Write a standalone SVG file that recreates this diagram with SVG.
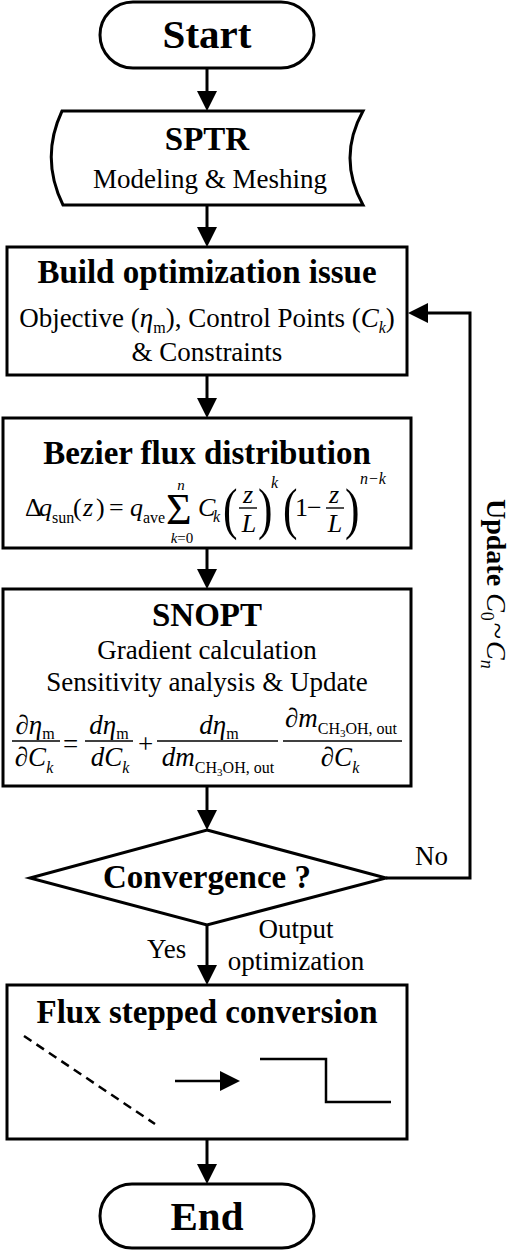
<svg xmlns="http://www.w3.org/2000/svg" width="512" height="1252" viewBox="0 0 512 1252">
<style>
.box{fill:#fff;stroke:#000;stroke-width:3}
.edge{fill:none;stroke:#000;stroke-width:3}
.thin{fill:none;stroke:#000;stroke-width:2.5}
.bar{stroke:#000;stroke-width:1.4}
text{font-family:"Liberation Serif","Times New Roman",serif;fill:#000}
.title{font-size:33px;font-weight:bold;text-anchor:middle}
.body{font-size:27px;text-anchor:middle}
.m{font-size:26px}
.f{font-size:27px}
.i{font-style:italic}
.s{font-size:16px}
.mid{text-anchor:middle}
</style>
<defs>
<marker id="ah" markerUnits="userSpaceOnUse" viewBox="0 0 20 20" markerWidth="20" markerHeight="20" refX="10" refY="10" orient="auto">
<path d="M0,0 L20,10 L0,20 Z" fill="#000"/>
</marker>
</defs>
<rect width="512" height="1252" fill="#fff"/>

<g id="connectors">
<path class="edge" d="M207,68 V101" marker-end="url(#ah)"/>
<path class="edge" d="M207,205 V237" marker-end="url(#ah)"/>
<path class="edge" d="M207,375 V408" marker-end="url(#ah)"/>
<path class="edge" d="M207,548 V579" marker-end="url(#ah)"/>
<path class="edge" d="M207,786 V820" marker-end="url(#ah)"/>
<path class="edge" d="M207,925 V975" marker-end="url(#ah)"/>
<path class="edge" d="M207,1139 V1174" marker-end="url(#ah)"/>
<path class="edge" d="M386,878 H470 V313 H418" marker-end="url(#ah)"/>
<text class="f" x="415" y="865">No</text>
<text class="f" x="147" y="958">Yes</text>
<text class="body" x="296" y="938">Output</text>
<text class="body" x="296" y="970">optimization</text>
<text font-size="28" x="487" y="499" transform="rotate(90 487 499)"><tspan font-weight="bold">Update</tspan><tspan dx="7" class="i">C</tspan><tspan font-size="18" dy="6">0</tspan><tspan dx="2" font-size="30" dy="-6">~</tspan><tspan dx="2" class="i">C</tspan><tspan font-size="18" class="i" dy="6">n</tspan></text>
</g>

<g id="start">
<rect class="box" x="100" y="2" width="214" height="66" rx="33"/>
<text x="207" y="48" font-size="41" font-weight="bold" text-anchor="middle">Start</text>
</g>

<g id="sptr">
<path class="box" d="M62,111 H363 Q337,158 363,205 H63 Q40,158 62,111 Z"/>
<text class="title" x="207" y="150">SPTR</text>
<text class="body" x="210" y="188">Modeling &amp; Meshing</text>
</g>

<g id="build">
<rect class="box" x="7" y="247" width="400" height="128"/>
<text class="title" x="207" y="283">Build optimization issue</text>
<text class="body" x="207" y="327">Objective (<tspan class="i">η</tspan><tspan class="s" dy="6">m</tspan><tspan dy="-6">), Control Points (</tspan><tspan class="i">C</tspan><tspan class="s i" dy="6">k</tspan><tspan dy="-6">)</tspan></text>
<text class="body" x="207" y="361">&amp; Constraints</text>
</g>

<g id="bezier">
<rect class="box" x="3" y="418" width="408" height="130"/>
<text class="title" x="207" y="464">Bezier flux distribution</text>
<text class="m" x="25" y="516">Δ</text>
<text class="m i" x="39" y="516">q</text>
<text class="s" x="52" y="523">sun</text>
<text class="m" x="73" y="516">(</text>
<text class="m i" x="83" y="516">z</text>
<text class="m" x="96" y="516">)</text>
<text class="m" x="109" y="516">=</text>
<text class="m i" x="130" y="516">q</text>
<text class="s" x="143" y="523">ave</text>
<text x="166" y="524" font-size="44">Σ</text>
<text class="i mid" x="181" y="490" font-size="15">n</text>
<text class="mid" x="182" y="543" font-size="15"><tspan class="i">k</tspan>=0</text>
<text class="m i" x="198" y="516">C</text>
<text class="s i" x="213" y="522">k</text>
<text font-size="58" transform="translate(223 528) scale(0.75 1)">(</text>
<text class="m i mid" x="248" y="503">z</text>
<line class="bar" x1="239" y1="508" x2="257" y2="508"/>
<text class="m i mid" x="249" y="532">L</text>
<text font-size="58" transform="translate(258 528) scale(0.75 1)">)</text>
<text class="s i" x="271" y="488">k</text>
<text font-size="58" transform="translate(283 528) scale(0.75 1)">(</text>
<text class="m" x="295" y="516">1</text>
<text class="m" x="307" y="516">−</text>
<text class="m i mid" x="334" y="503">z</text>
<line class="bar" x1="326" y1="508" x2="344" y2="508"/>
<text class="m i mid" x="335" y="532">L</text>
<text font-size="58" transform="translate(345 528) scale(0.75 1)">)</text>
<text class="s i" x="360" y="484">n−k</text>
</g>

<g id="snopt">
<rect class="box" x="3" y="589" width="408" height="197"/>
<text class="title" x="207" y="626">SNOPT</text>
<text class="body" x="207" y="659">Gradient calculation</text>
<text class="body" x="207" y="691">Sensitivity analysis &amp; Update</text>
<text class="f mid" x="35" y="734">∂<tspan class="i">η</tspan><tspan class="s" dy="5">m</tspan></text>
<line class="bar" x1="12" y1="741" x2="60" y2="741"/>
<text class="f mid" x="34" y="766">∂<tspan class="i">C</tspan><tspan class="s i" dy="7">k</tspan></text>
<text class="f" x="63" y="753">=</text>
<text class="f mid" x="109" y="734"><tspan class="i">dη</tspan><tspan class="s" dy="5">m</tspan></text>
<line class="bar" x1="85" y1="741" x2="133" y2="741"/>
<text class="f mid" x="110" y="766"><tspan class="i">dC</tspan><tspan class="s i" dy="7">k</tspan></text>
<text class="f" x="138" y="753">+</text>
<text class="f mid" x="219" y="734"><tspan class="i">dη</tspan><tspan class="s" dy="5">m</tspan></text>
<line class="bar" x1="157" y1="741" x2="278" y2="741"/>
<text class="f mid" x="218" y="766"><tspan class="i">dm</tspan><tspan class="s" dy="7">CH</tspan><tspan font-size="11" dy="3">3</tspan><tspan class="s" dy="-3">OH, out</tspan></text>
<text class="f mid" x="341" y="727">∂<tspan class="i">m</tspan><tspan class="s" dy="7">CH</tspan><tspan font-size="11" dy="3">3</tspan><tspan class="s" dy="-3">OH, out</tspan></text>
<line class="bar" x1="283" y1="741" x2="402" y2="741"/>
<text class="f mid" x="340" y="766">∂<tspan class="i">C</tspan><tspan class="s i" dy="7">k</tspan></text>
</g>

<g id="convergence">
<polygon class="box" points="207,830 386,878 207,925 30,878"/>
<text class="title" x="207" y="888">Convergence ?</text>
</g>

<g id="flux">
<rect class="box" x="7" y="985" width="400" height="154"/>
<text class="title" x="207" y="1023">Flux stepped conversion</text>
<line class="thin" x1="24" y1="1036" x2="155" y2="1124" stroke-dasharray="9 6"/>
<path class="thin" d="M175,1081 H230" marker-end="url(#ah)"/>
<polyline class="thin" points="260,1059 326,1059 326,1102 391,1102"/>
</g>

<g id="end">
<rect class="box" x="100" y="1184" width="214" height="64" rx="32"/>
<text x="207" y="1230" font-size="41" font-weight="bold" text-anchor="middle">End</text>
</g>
</svg>
